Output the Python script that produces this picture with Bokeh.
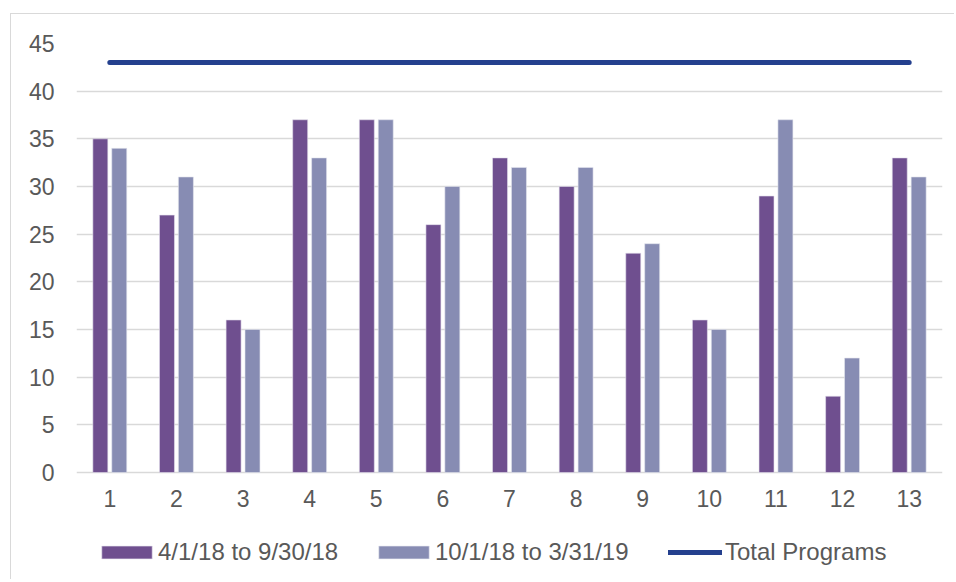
from bokeh.plotting import figure
from bokeh.models import ColumnDataSource, Range1d, FixedTicker, Legend, LegendItem
from bokeh.transform import dodge
from bokeh.embed import file_html
from bokeh.resources import INLINE

programs = list(range(1, 14))
tick_labels = [str(i) for i in programs]
period_1 = [35, 27, 16, 37, 37, 26, 33, 30, 23, 16, 29, 8, 33]
period_2 = [34, 31, 15, 33, 37, 30, 32, 32, 24, 15, 37, 12, 31]
total_programs = [43] * 13
series_names = ["4/1/18 to 9/30/18", "10/1/18 to 3/31/19", "Total Programs"]
y_ticks = [0, 5, 10, 15, 20, 25, 30, 35, 40, 45]

C1 = "#6F4F8F"
C2 = "#878CB3"
C3 = "#24408E"
TXT = "#595959"
FONT = "Liberation Sans"

src = ColumnDataSource(dict(x=programs, a=period_1, b=period_2, t=total_programs))

# frame extends below zero so the legend can sit inside it; x axis is pinned at y=0
p = figure(width=944, height=566, output_backend="svg", toolbar_location=None,
           x_range=Range1d(0.5, 13.5), y_range=Range1d(-11.12, 45),
           min_border_left=65, min_border_right=13, min_border_top=29,
           min_border_bottom=2)
p.margin = (13, 0, 0, 10)
p.styles = {"border-left": "1px solid #D9D9D9", "border-top": "1px solid #D9D9D9"}
p.outline_line_color = None
p.background_fill_color = "white"
p.border_fill_color = "white"

r1 = p.vbar(x=dodge("x", -0.142, range=p.x_range), top="a", width=0.225, bottom=0,
            source=src, fill_color=C1, line_color="#E4E0EC", line_width=0.6)
r2 = p.vbar(x=dodge("x", 0.142, range=p.x_range), top="b", width=0.225, bottom=0,
            source=src, fill_color=C2, line_color="#E4E5EF", line_width=0.6)
r3 = p.line(x="x", y="t", source=src, line_color=C3, line_width=5, line_cap="round")

p.xgrid.grid_line_color = None
p.ygrid.grid_line_color = "#D9D9D9"
p.ygrid.grid_line_width = 1.5
p.ygrid.ticker = FixedTicker(ticks=y_ticks)

p.yaxis.ticker = FixedTicker(ticks=y_ticks)
p.xaxis.ticker = FixedTicker(ticks=programs)
p.xaxis.major_label_overrides = {i: s for i, s in zip(programs, tick_labels)}
p.xaxis.fixed_location = 0
for ax in (p.xaxis[0], p.yaxis[0]):
    ax.axis_line_color = None
    ax.major_tick_line_color = None
    ax.minor_tick_line_color = None
    ax.major_tick_in = 0
    ax.major_tick_out = 0
    ax.minor_tick_out = 0
    ax.major_label_text_font = FONT
    ax.major_label_text_font_size = "23px"
    ax.major_label_text_color = TXT
p.yaxis.major_label_standoff = 22
p.xaxis.major_label_standoff = 18


def add_legend(renderer, label, x, y, gw, standoff):
    lg = Legend(items=[LegendItem(label=label, renderers=[renderer])],
                location=(x, y), orientation="horizontal",
                glyph_width=gw, glyph_height=16, label_standoff=standoff,
                padding=0, margin=0, spacing=0, border_line_color=None,
                background_fill_alpha=0, label_text_font=FONT,
                label_text_font_size="24px", label_text_color=TXT)
    p.add_layout(lg, "center")


add_legend(r1, series_names[0], 19, 12, 63, 0)
add_legend(r2, series_names[1], 296, 12, 63, 0)
add_legend(r3, series_names[2], 592, 12, 54, 3)

open("out.html", "w").write(file_html(p, INLINE))
